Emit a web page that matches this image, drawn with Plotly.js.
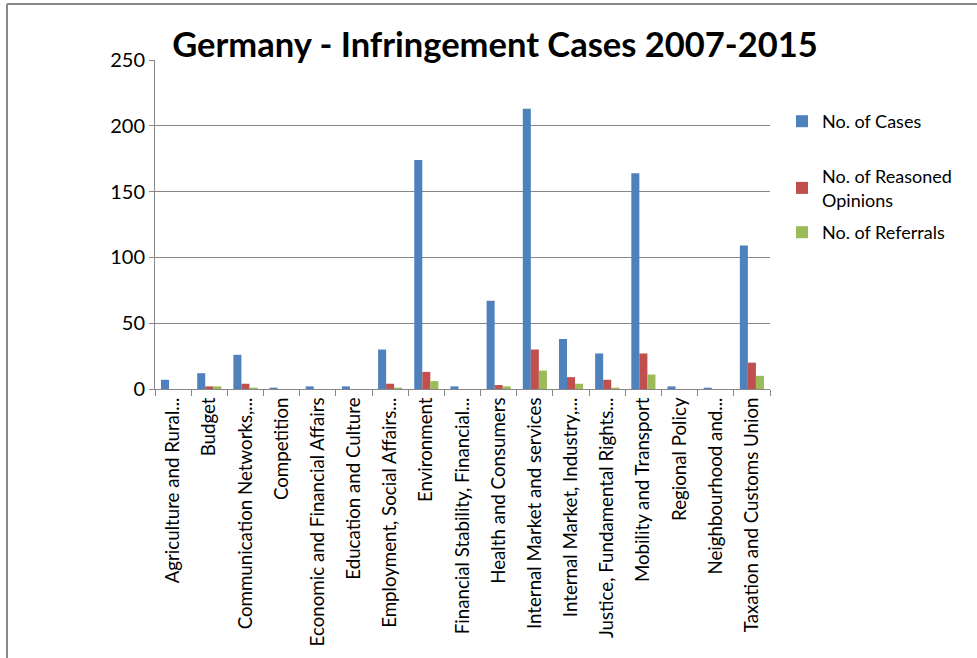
<!DOCTYPE html>
<html>
<head>
<meta charset="utf-8">
<script src="https://cdn.plot.ly/plotly-3.0.1.min.js"></script>
<style>html,body{margin:0;padding:0;background:#fff;}#chart{width:977px;height:658px;}</style>
</head>
<body>
<div id="chart"></div>
<script>
const categories = [
  "Agriculture and Rural...",
  "Budget",
  "Communication Networks,...",
  "Competition",
  "Economic and Financial Affairs",
  "Education and Culture",
  "Employment, Social Affairs...",
  "Environment",
  "Financial Stability, Financial...",
  "Health and Consumers",
  "Internal Market and services",
  "Internal Market, Industry,...",
  "Justice, Fundamental Rights...",
  "Mobility and Transport",
  "Regional Policy",
  "Neighbourhood and...",
  "Taxation and Customs Union"
];
const seriesNames = ["No. of Cases", "No. of Reasoned<br>Opinions", "No. of Referrals"];
const cases      = [7, 12, 26, 1, 2, 2, 30, 174, 2, 67, 213, 38, 27, 164, 2, 1, 109];
const reasoned   = [0, 2, 4, 0, 0, 0, 4, 13, 0, 3, 30, 9, 7, 27, 0, 0, 20];
const referrals  = [0, 2, 1, 0, 0, 0, 1, 6, 0, 2, 14, 4, 1, 11, 0, 0, 10];
const yTicks = [0, 50, 100, 150, 200, 250];

const colors = ["#4F81BD", "#C0504D", "#9BBB59"];
const W = 977, H = 658;
const M = {l: 155, r: 207, t: 60, b: 269};
const pw = W - M.l - M.r, ph = H - M.t - M.b;
const px = v => (v - M.l) / pw;
const py = v => (H - M.b - v) / ph;

const legendIds = ["legend", "legend2", "legend3"];
const traces = [cases, reasoned, referrals].map((d, i) => ({
  type: "bar",
  x: categories,
  y: d,
  name: seriesNames[i],
  legend: legendIds[i],
  marker: {color: colors[i]},
  hoverinfo: "x+y+name"
}));

const legendFont = {family: "Lato, sans-serif", size: 18, color: "#000"};
const mkLegend = top => ({
  x: px(782), y: py(top), xanchor: "left", yanchor: "top",
  font: legendFont, itemwidth: 30, bgcolor: "rgba(0,0,0,0)"
});

const layout = {
  width: W, height: H,
  margin: M,
  paper_bgcolor: "#fff",
  plot_bgcolor: "#fff",
  barmode: "group",
  bargap: 0.333,
  bargroupgap: 0,
  title: {
    text: "<b>Germany - Infringement Cases 2007-2015</b>",
    font: {family: "Lato, sans-serif", size: 34.5, color: "#000"},
    x: px(495), xref: "paper", xanchor: "center",
    y: 1 - 45 / H, yref: "container", yanchor: "middle"
  },
  xaxis: {
    type: "category",
    tickangle: -90,
    tickfont: {family: "Lato, sans-serif", size: 18.7, color: "#000"},
    showline: true, linecolor: "#868686", linewidth: 1,
    ticks: "outside", tickson: "boundaries", ticklen: 6, tickcolor: "#868686",
    showgrid: false, zeroline: false, automargin: false
  },
  yaxis: {
    range: [0, 250],
    tickvals: yTicks,
    ticktext: yTicks.map(String),
    tickfont: {family: "Lato, sans-serif", size: 20, color: "#000"},
    showline: true, linecolor: "#868686", linewidth: 1,
    ticks: "outside", ticklen: 5, tickcolor: "#868686",
    showgrid: true, gridcolor: "#868686", gridwidth: 1,
    zeroline: false, automargin: false
  },
  showlegend: true,
  legend: mkLegend(103),
  legend2: mkLegend(158),
  legend3: mkLegend(214),
  shapes: [
    {type: "line", xref: "paper", yref: "paper", x0: px(7), x1: px(990), y0: py(4), y1: py(4), line: {color: "#888", width: 2}},
    {type: "line", xref: "paper", yref: "paper", x0: px(7), x1: px(7), y0: py(4), y1: py(670), line: {color: "#888", width: 2}}
  ]
};

Plotly.newPlot("chart", traces, layout, {displayModeBar: false, staticPlot: true});
</script>
</body>
</html>
